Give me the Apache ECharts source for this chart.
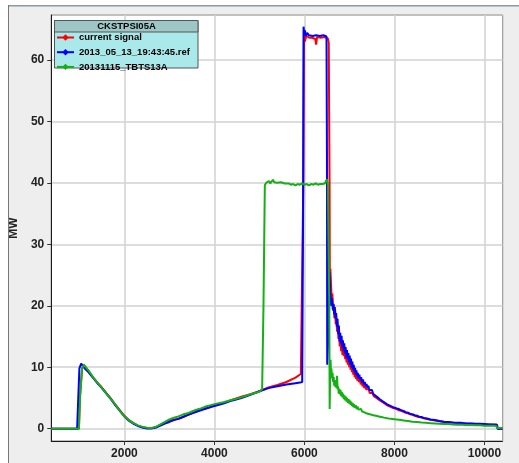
<!DOCTYPE html>
<html>
<head>
<meta charset="utf-8">
<script src="https://cdn.jsdelivr.net/npm/echarts@6/dist/echarts.min.js"></script>
<style>
html,body{margin:0;padding:0;background:#fff;}
#chart{width:519px;height:463px;}
</style>
</head>
<body>
<div id="chart"></div>
<script>
// ---- data (x = sample index, y = MW) ----
const legendTitle = 'CKSTPSI05A';
const seriesNames = ['current signal', '2013_05_13_19:43:45.ref', '20131115_TBTS13A'];
const seriesColors = ['#ff0000', '#0000ff', '#14b014'];
const yAxisName = 'MW';

const currentSignal = [
[375,0],[990,0],[1010,5],[1060,9.8],[1100,10.4],[1140,10.0],[1200,9.4],[1300,8.4],[1400,7.5],[1500,6.7],[1600,5.8],[1700,4.9],[1800,3.9],[1900,3.0],[2000,2.1],[2100,1.4],[2200,0.9],[2300,0.5],[2400,0.25],[2500,0.1],[2600,0.1],[2700,0.25],[2800,0.6],[2900,1.0],[3000,1.3],[3100,1.5],[3200,1.6],[3300,1.9],[3400,2.2],[3500,2.5],[3600,2.8],[3700,3.1],[3800,3.3],[3900,3.5],[4000,3.8],[4200,4.2],[4400,4.7],[4600,5.2],[4800,5.6],[5000,6.1],[5200,6.7],[5400,7.1],[5600,7.6],[5800,8.3],[5920,8.9],[5950,9.2],[5975,40],[5990,64.8],[6010,63.0],[6040,63.9],[6080,63.7],[6110,63.6],[6130,63.8],[6170,63.6],[6200,63.8],[6240,63.4],[6260,62.5],[6280,63.7],[6320,63.8],[6360,63.6],[6400,63.9],[6440,63.7],[6480,63.8],[6520,63.5],[6540,62.8],[6558,40],[6565,20],[6575,26],
[6590,23.7],[6605,21.0],[6620,22.0],[6635,19.2],[6650,20.2],[6665,18.0],[6680,19.4],[6695,17.0],[6710,18.0],[6725,15.8],[6740,16.9],[6755,14.6],[6770,15.6],[6785,13.4],[6800,14.6],[6815,12.6],[6830,13.6],[6845,12.0],[6860,13.0],[6875,11.8],[6890,12.9],[6905,11.3],[6920,12.4],[6935,10.8],[6950,11.7],[6965,10.4],[6980,11.4],[6995,10.0],[7010,10.9],[7025,9.6],[7040,10.5],[7055,9.2],[7070,10.0],[7085,8.8],[7100,9.6],[7115,8.4],[7130,9.2],[7145,8.1],[7160,8.8],[7175,7.8],[7190,8.5],[7210,7.6],[7230,8.1],[7250,7.2],[7270,7.7],[7290,6.9],[7310,7.3],[7330,6.6],[7350,7.0],[7370,6.4],[7390,6.7],[7410,6.1],[7430,6.4],[7450,5.8],[7470,6.1],[7490,5.6],[7510,5.8],[7540,5.3],[7570,5.5],[7600,5.0],[7630,5.1],[7660,4.7],[7690,4.8],[7720,4.4],[7750,4.5],[7780,4.1],[7810,4.2],[7840,3.8],[7870,3.9],[7900,3.6],[7930,3.6],[7960,3.4],[8000,3.35],
[8050,3.2],[8100,3.0],[8150,2.9],[8200,2.75],[8250,2.6],[8300,2.5],[8350,2.35],[8400,2.25],[8450,2.1],[8500,2.0],[8550,1.9],[8600,1.8],[8650,1.7],[8700,1.6],[8800,1.45],[8900,1.35],[9000,1.2],[9100,1.1],[9200,1.05],[9300,0.95],[9400,0.9],[9500,0.9],[9600,0.8],[9700,0.8],[9800,0.75],[9900,0.75],[10000,0.7],[10100,0.7],[10200,0.65],[10280,0.6],[10300,0],[10400,0]
];

const refSignal = [
[375,0],[950,0],[975,5],[1000,9.8],[1040,10.6],[1080,10.3],[1120,9.8],[1200,9.2],[1300,8.3],[1400,7.4],[1500,6.6],[1600,5.7],[1700,4.8],[1800,3.8],[1900,2.9],[2000,2.0],[2100,1.3],[2200,0.8],[2300,0.45],[2400,0.2],[2500,0.05],[2600,0.05],[2700,0.2],[2800,0.5],[2900,0.85],[3000,1.1],[3100,1.4],[3200,1.6],[3300,1.9],[3400,2.2],[3500,2.5],[3600,2.75],[3700,3.0],[3800,3.25],[3900,3.5],[4000,3.7],[4200,4.1],[4400,4.6],[4600,5.0],[4800,5.5],[5000,6.1],[5200,6.6],[5400,6.9],[5600,7.2],[5800,7.4],[5900,7.5],[5950,7.6],[5970,35],[5980,65.4],[5995,64.3],[6010,64.8],[6030,63.9],[6060,64.4],[6100,64.0],[6140,64.3],[6180,63.9],[6220,64.2],[6260,64.0],[6300,64.3],[6340,63.9],[6380,64.1],[6420,64.0],[6460,64.2],[6490,63.8],[6500,45],[6506,10.4],[6530,10.5],[6545,18],[6555,25.5],[6575,22],
[6600,20.0],[6615,21.2],[6630,19.4],[6645,20.3],[6660,18.6],[6675,19.8],[6690,17.9],[6705,18.8],[6720,16.6],[6735,17.9],[6750,15.4],[6765,16.8],[6780,14.2],[6795,15.6],[6810,13.9],[6825,15.1],[6840,13.2],[6855,14.4],[6870,12.6],[6885,13.9],[6900,12.2],[6915,13.3],[6930,11.6],[6945,12.8],[6960,11.3],[6975,12.3],[6990,10.8],[7005,11.9],[7020,10.4],[7035,11.4],[7050,9.9],[7065,10.9],[7080,9.6],[7095,10.4],[7110,9.2],[7125,9.9],[7140,8.8],[7155,9.5],[7170,8.5],[7185,9.1],[7200,8.2],[7220,8.8],[7240,7.9],[7260,8.4],[7280,7.5],[7300,8.0],[7320,7.2],[7340,7.6],[7360,6.9],[7380,7.3],[7400,6.6],[7420,7.0],[7440,6.3],[7460,6.6],[7480,6.0],[7500,6.3],[7525,5.7],[7550,6.0],[7575,5.4],[7600,5.6],[7625,5.1],[7650,5.3],[7675,4.8],[7700,5.0],[7730,4.5],[7760,4.6],[7790,4.2],[7820,4.3],[7850,3.9],[7880,4.0],[7910,3.7],[7940,3.8],[7970,3.5],[8000,3.5],
[8050,3.3],[8100,3.2],[8150,3.0],[8200,2.9],[8250,2.7],[8300,2.6],[8350,2.4],[8400,2.35],[8450,2.2],[8500,2.1],[8550,1.95],[8600,1.9],[8650,1.75],[8700,1.7],[8800,1.5],[8900,1.4],[9000,1.25],[9100,1.15],[9200,1.1],[9300,1.0],[9400,0.95],[9500,0.95],[9600,0.85],[9700,0.85],[9800,0.8],[9900,0.8],[10000,0.75],[10100,0.7],[10200,0.7],[10270,0.7],[10290,0],[10400,0]
];

const tbtsSignal = [
[375,0],[990,0],[1015,5],[1060,9.8],[1100,10.4],[1140,10.1],[1200,9.5],[1300,8.4],[1400,7.5],[1500,6.6],[1600,5.7],[1700,4.8],[1800,3.9],[1900,2.9],[2000,2.0],[2100,1.4],[2200,0.9],[2300,0.55],[2400,0.3],[2500,0.15],[2600,0.1],[2700,0.3],[2800,0.7],[2900,1.1],[3000,1.5],[3100,1.8],[3200,2.0],[3300,2.3],[3400,2.5],[3500,2.8],[3600,3.1],[3700,3.3],[3800,3.6],[3900,3.8],[4000,4.0],[4200,4.3],[4400,4.7],[4600,5.1],[4800,5.6],[5000,6.0],[5060,6.4],[5090,20],[5120,39.6],[5150,40.0],[5180,40.2],[5210,40.3],[5240,39.9],[5270,40.2],[5300,40.5],[5330,40.1],[5360,40.3],[5400,40.0],[5440,39.9],[5480,40.1],[5520,39.8],[5560,39.9],[5600,39.7],[5650,39.9],[5700,39.7],[5750,39.8],[5800,39.6],[5850,39.8],[5900,39.7],[5950,39.9],[6000,39.7],[6050,39.8],[6100,39.6],[6150,39.8],[6200,39.7],[6250,39.9],[6300,39.7],[6350,39.8],[6400,39.8],[6450,39.9],[6480,40.2],[6500,40.6],[6520,39.8],[6540,39.8],[6552,20],[6560,3.2],[6570,8],
[6580,11.2],[6590,9.0],[6600,9.8],[6612,8.2],[6625,9.1],[6637,7.6],[6650,8.4],[6662,7.0],[6675,7.9],[6687,6.8],[6700,7.6],[6712,6.6],[6725,8.6],[6737,6.4],[6750,6.9],[6762,5.7],[6775,6.5],[6787,5.6],[6800,6.3],[6815,5.3],[6830,6.0],[6845,5.1],[6860,5.7],[6875,4.8],[6890,5.4],[6905,4.6],[6920,5.2],[6935,4.4],[6950,5.0],[6965,4.2],[6980,4.8],[6995,4.1],[7010,4.6],[7025,3.9],[7040,4.4],[7055,3.7],[7070,4.2],[7085,3.5],[7100,4.0],[7120,3.4],[7140,3.8],[7160,3.2],[7180,3.6],[7200,3.1],[7220,3.4],[7240,2.9],[7260,3.2],[7280,2.8],[7300,3.0],[7325,2.7],[7350,2.9],[7375,2.5],[7400,2.8],[7425,2.4],[7450,2.6],[7475,2.3],[7500,2.5],[7530,2.2],[7560,2.35],[7590,2.1],[7620,2.2],[7650,2.0],[7680,2.1],[7710,1.9],[7740,2.0],[7770,1.8],[7800,1.85],[7840,1.7],[7880,1.75],[7920,1.6],[7960,1.65],[8000,1.55],
[8050,1.5],[8100,1.45],[8150,1.4],[8200,1.35],[8300,1.25],[8400,1.15],[8500,1.1],[8600,1.0],[8700,0.95],[8800,0.9],[8900,0.85],[9000,0.8],[9100,0.75],[9200,0.75],[9300,0.7],[9400,0.65],[9500,0.65],[9600,0.6],[9700,0.6],[9800,0.55],[9900,0.55],[10000,0.5],[10100,0.5],[10200,0.5],[10260,0.45],[10280,0.1],[10400,0.1]
];

const xRange = [375, 10400];
const yRange = [-2, 67.3];

// ---- chart ----
const seriesData = [currentSignal, refSignal, tbtsSignal];
const chart = echarts.init(document.getElementById('chart'), null, {renderer: 'canvas'});
const FONT = 'Liberation Sans';

chart.setOption({
  animation: false,
  backgroundColor: '#eeeeee',
  grid: {
    left: 50, top: 15, right: 16.5, bottom: 22,
    show: true, backgroundColor: '#ffffff', borderColor: '#1a1a1a', borderWidth: 1
  },
  xAxis: {
    type: 'value', min: xRange[0], max: xRange[1], splitNumber: 5,
    axisLine: {show: true, onZero: false, lineStyle: {color: '#1a1a1a', width: 1}},
    axisTick: {show: true, length: 4, lineStyle: {color: '#333'}},
    axisLabel: {showMinLabel: false, showMaxLabel: false, margin: 7,
      formatter: v => String(v),
      fontFamily: FONT, fontWeight: 'bold', fontSize: 12, color: '#222'},
    splitLine: {show: true, lineStyle: {color: '#d2d2d2', width: 1.5}}
  },
  yAxis: {
    type: 'value', min: yRange[0], max: yRange[1], splitNumber: 7,
    name: yAxisName, nameLocation: 'middle', nameGap: 29, nameRotate: 90,
    nameTextStyle: {fontFamily: FONT, fontWeight: 'bold', fontSize: 12, color: '#222'},
    axisLine: {show: true, onZero: false, lineStyle: {color: '#1a1a1a', width: 1}},
    axisTick: {show: true, length: 4, lineStyle: {color: '#333'}},
    axisLabel: {showMinLabel: false, showMaxLabel: false, margin: 7,
      formatter: v => String(v),
      fontFamily: FONT, fontWeight: 'bold', fontSize: 12, color: '#222'},
    splitLine: {show: true, lineStyle: {color: '#d2d2d2', width: 1.5}}
  },
  legend: {
    orient: 'vertical', left: 56, top: 32.5, padding: 0,
    itemWidth: 17, itemHeight: 8, itemGap: 4.7,
    data: seriesNames,
    textStyle: {fontFamily: FONT, fontWeight: 'bold', fontSize: 9.5, color: '#000', padding: [0,0,0,0]},
    z: 10
  },
  graphic: [
    {type: 'rect', shape: {x: 0, y: 0, width: 519, height: 5}, style: {fill: '#ffffff'}, z: 1},
    {type: 'rect', shape: {x: 0, y: 0, width: 8, height: 463}, style: {fill: '#ffffff'}, z: 1},
    {type: 'line', shape: {x1: 8, y1: 5.5, x2: 519, y2: 5.5}, style: {stroke: '#8d9aa5', lineWidth: 1}, z: 1},
    {type: 'line', shape: {x1: 9, y1: 6.5, x2: 519, y2: 6.5}, style: {stroke: '#b9c3ca', lineWidth: 1}, z: 1},
    {type: 'line', shape: {x1: 8.5, y1: 5, x2: 8.5, y2: 463}, style: {stroke: '#777777', lineWidth: 1}, z: 1},
    {type: 'rect', shape: {x: 54.5, y: 20.5, width: 143.5, height: 47.5}, style: {fill: '#aae9e9', stroke: '#555555', lineWidth: 1}, z: 5},
    {type: 'rect', shape: {x: 54.5, y: 20.5, width: 143.5, height: 11.5}, style: {fill: '#9dc6c6', stroke: '#555555', lineWidth: 1}, z: 5},
    {type: 'text', x: 126.5, y: 26.5, style: {text: legendTitle, fontFamily: FONT, fontWeight: 'bold', fontSize: 9.5, fill: '#000', align: 'center', verticalAlign: 'middle'}, z: 6}
  ],
  series: seriesNames.map((n, i) => ({
    name: n, type: 'line', data: seriesData[i],
    showSymbol: false, symbol: 'diamond', symbolSize: 6,
    color: seriesColors[i],
    lineStyle: {width: 2, color: seriesColors[i]},
    itemStyle: {color: seriesColors[i]},
    z: 2 + i
  }))
});
</script>
</body>
</html>
